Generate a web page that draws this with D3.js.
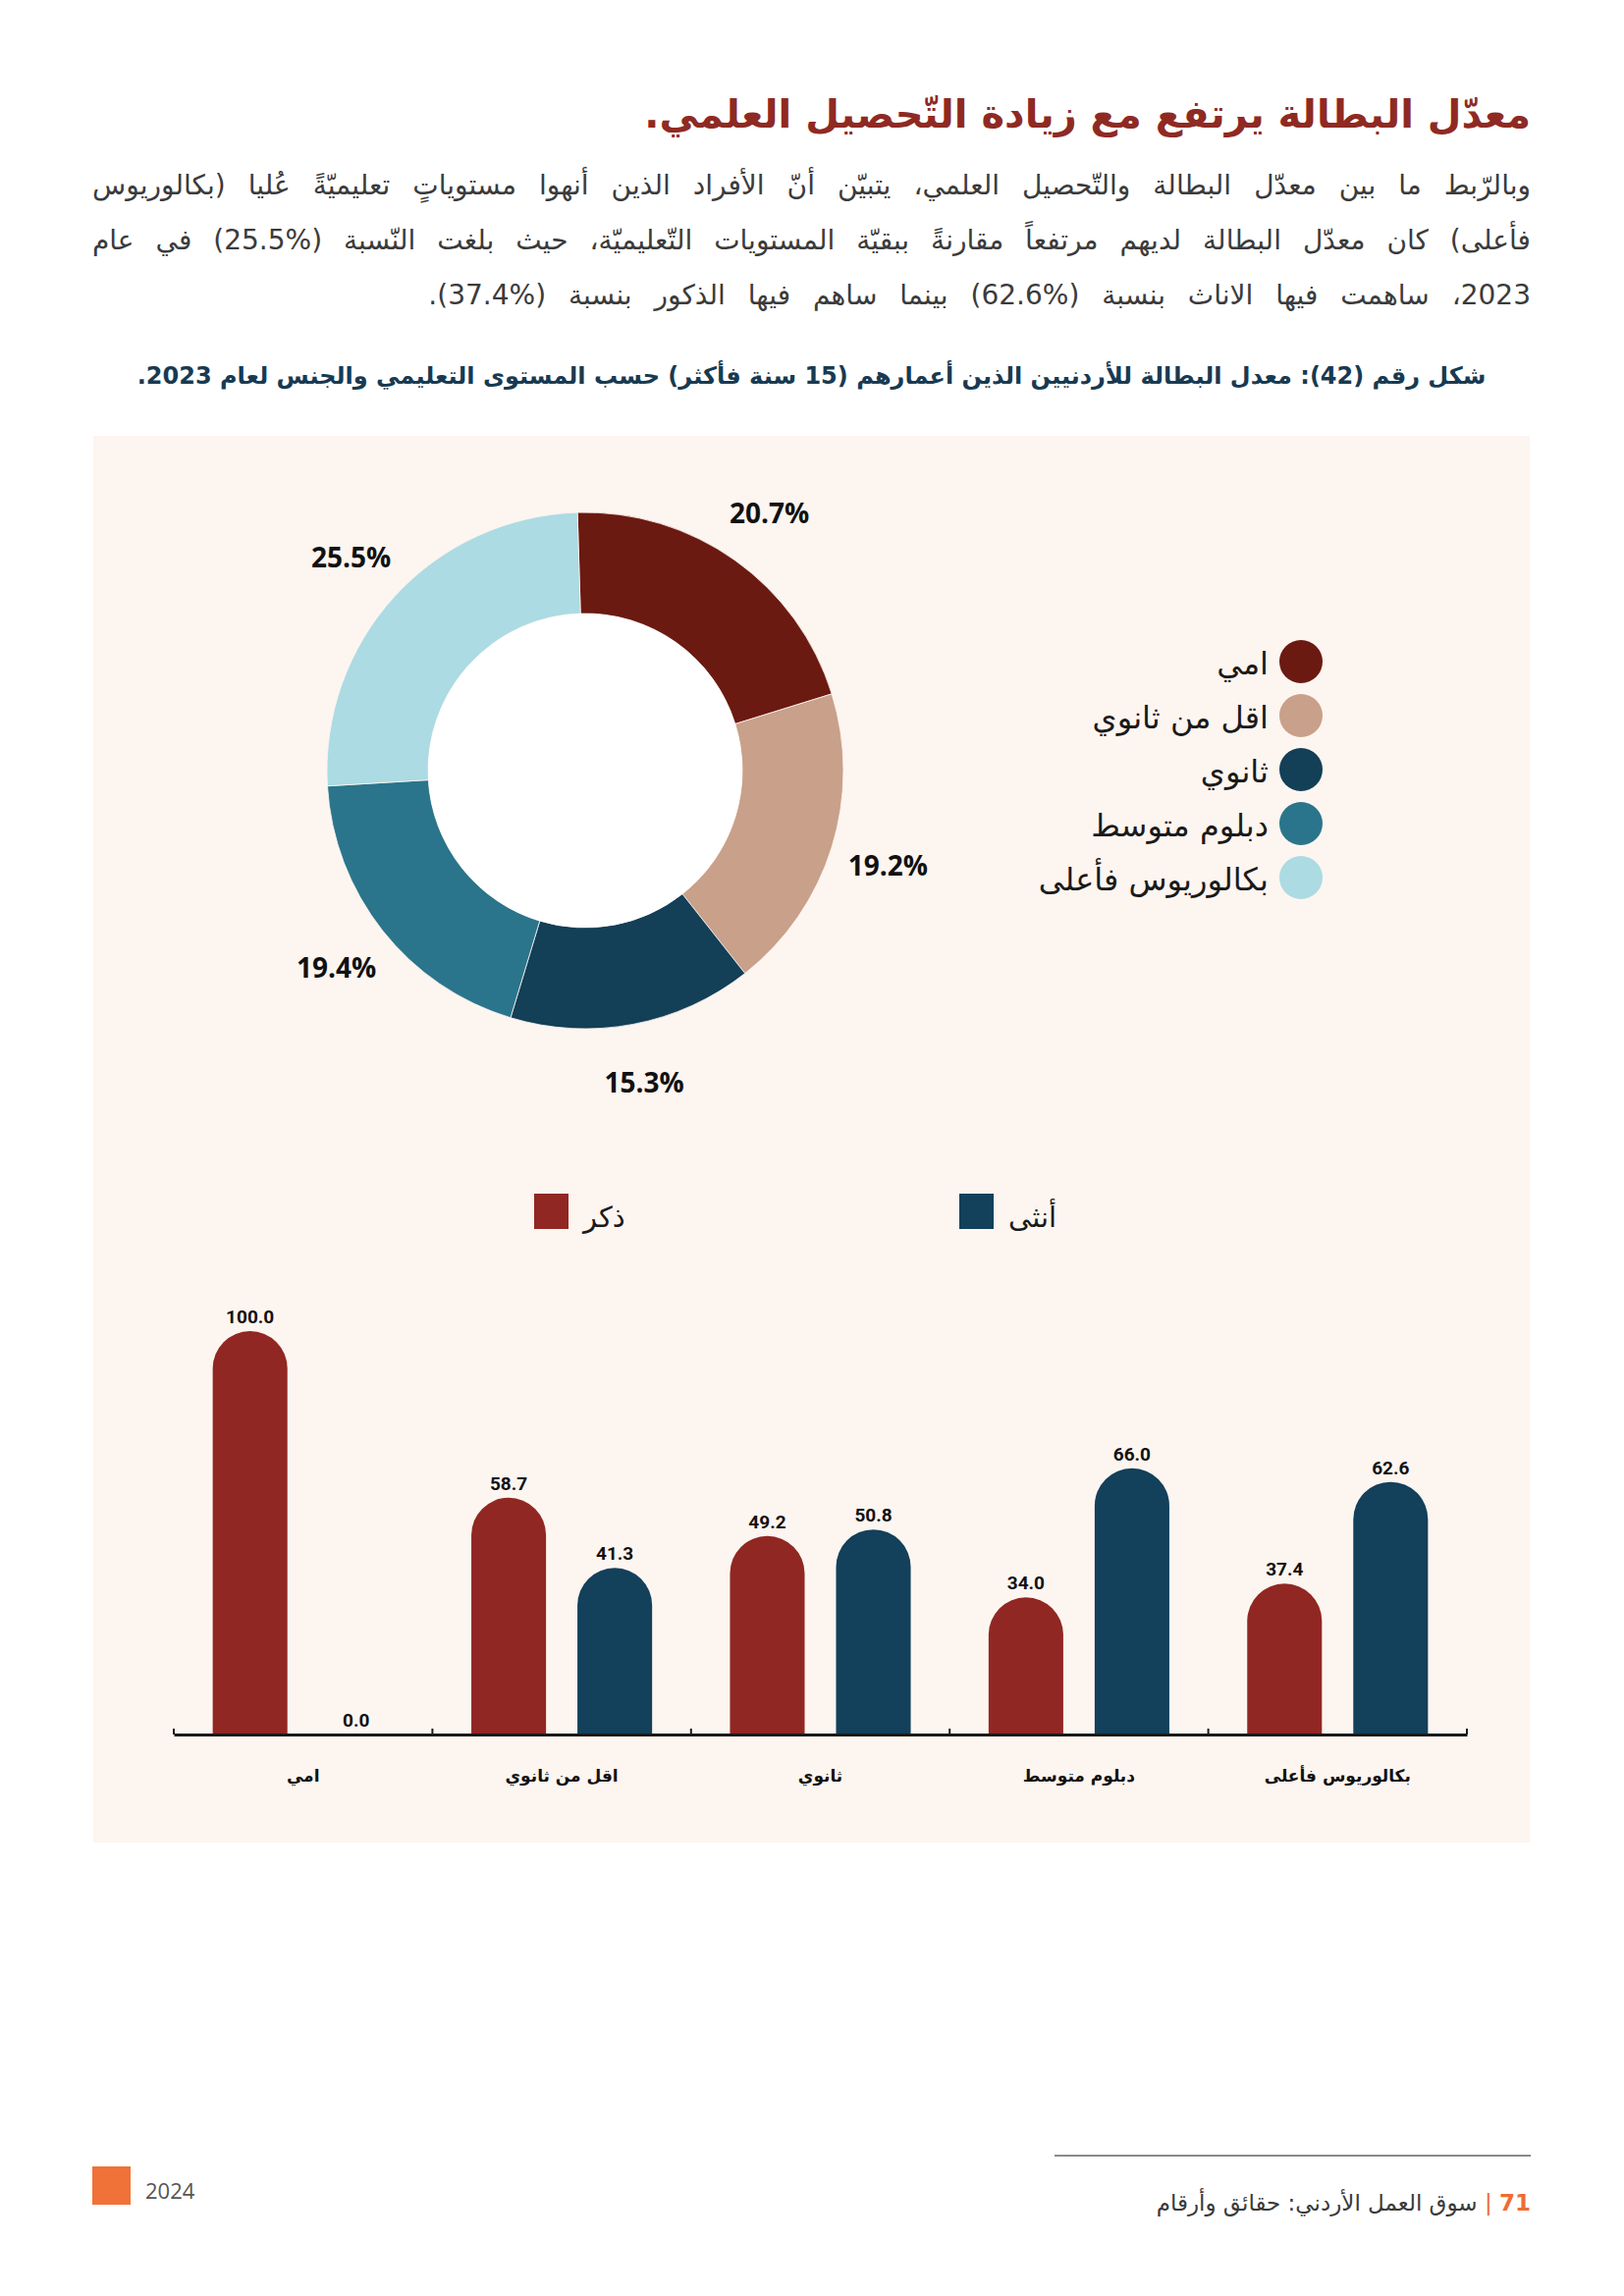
<!DOCTYPE html>
<html lang="ar">
<head>
<meta charset="utf-8">
<script src="https://cdn.jsdelivr.net/npm/d3@7"></script>
<style>
  html, body { margin:0; padding:0; background:#ffffff; }
  body { width:1654px; height:2339px; position:relative; overflow:hidden; font-family:"DejaVu Sans", sans-serif; }
  svg { position:absolute; left:0; top:0; }
  .t { position:absolute; direction:rtl; }
  #title { right:95px; top:86px; font-size:40px; font-weight:bold; color:#8f2a23; white-space:nowrap; line-height:60px; }
  .pl { left:94px; width:1465px; font-size:28px; color:#3b3b3b; line-height:56px; height:56px; }
  .just { text-align:justify; text-align-last:justify; }
  .right { text-align:right; word-spacing:14px; }
  .ltr { direction:ltr; unicode-bidi:isolate; }
  #caption { left:94px; width:1465px; top:363px; text-align:center; font-size:24px; font-weight:bold; color:#183a52; line-height:40px; }
  #foot { right:95px; top:2226px; font-size:23px; color:#3a3a3a; white-space:nowrap; line-height:36px; }
  #foot .n { color:#ef6c33; font-weight:bold; }
  #foot .b { color:#ef6c33; }
  #year { position:absolute; left:148px; top:2216px; font-size:22px; color:#555; line-height:30px; font-family:"Open Sans", sans-serif; }
</style>
</head>
<body>
<svg id="chart" width="1654" height="2339"></svg>
<div class="t" id="title">معدّل البطالة يرتفع مع زيادة التّحصيل العلمي.</div>
<div class="t pl just" style="top:161px">وبالرّبط ما بين معدّل البطالة والتّحصيل العلمي، يتبيّن أنّ الأفراد الذين أنهوا مستوياتٍ تعليميّةً عُليا (بكالوريوس</div>
<div class="t pl just" style="top:217px">فأعلى) كان معدّل البطالة لديهم مرتفعاً مقارنةً ببقيّة المستويات التّعليميّة، حيث بلغت النّسبة (<span class="ltr">25.5%</span>) في عام</div>
<div class="t pl right" style="top:273px">2023، ساهمت فيها الاناث بنسبة (<span class="ltr">62.6%</span>) بينما ساهم فيها الذكور بنسبة (<span class="ltr">37.4%</span>).</div>
<div class="t" id="caption">شكل رقم (42): معدل البطالة للأردنيين الذين أعمارهم (15 سنة فأكثر) حسب المستوى التعليمي والجنس لعام 2023.</div>
<div class="t" id="foot"><span class="n">71</span> <span class="b">|</span> سوق العمل الأردني: حقائق وأرقام</div>
<div id="year">2024</div>
<script>
// ---------- DATA ----------
const pieCategories = ["امي", "اقل من ثانوي", "ثانوي", "دبلوم متوسط", "بكالوريوس فأعلى"];
const pieValues = [20.7, 19.2, 15.3, 19.4, 25.5];
const pieLabelTexts = ["20.7%", "19.2%", "15.3%", "19.4%", "25.5%"];

const barCategories = ["امي", "اقل من ثانوي", "ثانوي", "دبلوم متوسط", "بكالوريوس فأعلى"];
const seriesNames = ["ذكر", "أنثى"];
const maleValues = [100.0, 58.7, 49.2, 34.0, 37.4];
const femaleValues = [0.0, 41.3, 50.8, 66.0, 62.6];

// ---------- STYLE ----------
const pieColors = ["#6b1a12", "#c9a08a", "#133f57", "#2a758c", "#acdbe3"];
const seriesColors = ["#912722", "#13405a"];

const svg = d3.select("#chart");

// panel background
svg.append("rect").attr("x", 95).attr("y", 444).attr("width", 1463).attr("height", 1433).attr("fill", "#fdf5f0");

// ---------- DONUT ----------
const cx = 596, cy = 785, rOut = 263, rIn = 160, rLab = 323;
const a0 = -0.03;
const pie = d3.pie().sort(null).value(d => d).startAngle(a0).endAngle(a0 + 2 * Math.PI);
const arcs = pie(pieValues);
const arc = d3.arc().innerRadius(rIn).outerRadius(rOut);
const labArc = d3.arc().innerRadius(rLab).outerRadius(rLab);
const gPie = svg.append("g").attr("transform", `translate(${cx},${cy})`);
gPie.selectAll("path").data(arcs).join("path")
  .attr("d", arc).attr("fill", (d, i) => pieColors[i])
  .attr("stroke", "#fdf5f0").attr("stroke-width", 0.8);
gPie.append("circle").attr("r", rIn).attr("fill", "#ffffff");
gPie.selectAll("text.pl").data(arcs).join("text").attr("class", "pl")
  .attr("x", d => labArc.centroid(d)[0]).attr("y", d => labArc.centroid(d)[1])
  .attr("text-anchor", "middle").attr("dominant-baseline", "central")
  .attr("font-family", "'Open Sans', sans-serif").attr("font-weight", "bold").attr("font-size", 18)
  .attr("fill", "#111").text((d, i) => pieLabelTexts[i]);

// legend
const legY = d3.scalePoint().domain(pieCategories).range([674, 894]);
const gLeg = svg.append("g");
pieCategories.forEach((c, i) => {
  gLeg.append("circle").attr("cx", 1325).attr("cy", legY(c)).attr("r", 22).attr("fill", pieColors[i]);
  gLeg.append("text").attr("x", 1292).attr("y", legY(c) + 13).attr("text-anchor", "end")
    .attr("font-size", 32).attr("fill", "#1a1a1a").text(c);
});

// ---------- BARS ----------
const baseY = 1767;
const x0 = d3.scaleBand().domain(barCategories).range([177, 1494]).padding(0);
const x1 = d3.scaleBand().domain(seriesNames).range([0, x0.bandwidth()]).paddingInner(0.296).paddingOuter(0.367);
const y = d3.scaleLinear().domain([0, 100]).range([baseY, 1356]);

// bar legend
const legX = d3.scaleOrdinal().domain(seriesNames).range([544, 977]);
seriesNames.forEach((s, i) => {
  svg.append("rect").attr("x", legX(s)).attr("y", 1216).attr("width", 35).attr("height", 36).attr("fill", seriesColors[i]);
  svg.append("text").attr("x", legX(s) + 50).attr("y", 1250).attr("font-size", 29).attr("fill", "#1a1a1a").text(s);
});

function barPath(x, w, v) {
  const top = y(v), h = baseY - top;
  if (h <= 0) return "";
  const r = Math.min(w / 2, h);
  return `M${x},${baseY}V${top + r}A${w / 2},${r} 0 0 1 ${x + w},${top + r}V${baseY}Z`;
}

const rows = barCategories.map((c, i) => ({ cat: c, vals: [maleValues[i], femaleValues[i]] }));
const gBars = svg.append("g");
rows.forEach(row => {
  row.vals.forEach((v, j) => {
    const s = seriesNames[j];
    const bx = x0(row.cat) + x1(s);
    gBars.append("path").attr("d", barPath(bx, x1.bandwidth(), v)).attr("fill", seriesColors[j]);
    gBars.append("text").attr("x", bx + x1.bandwidth() / 2).attr("y", y(v) - 8)
      .attr("text-anchor", "middle").attr("font-family", "Roboto, sans-serif").attr("font-weight", "bold")
      .attr("font-size", 19).attr("fill", "#111").text(d3.format(".1f")(v));
  });
});

// axis
const gAx = svg.append("g").attr("transform", `translate(0,${baseY})`)
  .call(d3.axisBottom(x0).tickSize(0).tickPadding(36));
gAx.select(".domain").attr("stroke", "#1a1a1a").attr("stroke-width", 3);
gAx.selectAll(".tick text").attr("font-family", "'DejaVu Sans', sans-serif").attr("font-weight", "bold")
  .attr("font-size", 17).attr("fill", "#111");
const bounds = barCategories.map(c => x0(c)).concat([x0.range()[1]]);
gAx.selectAll("line.b").data(bounds).join("line").attr("class", "b")
  .attr("x1", d => d).attr("x2", d => d).attr("y1", 0).attr("y2", -6)
  .attr("stroke", "#1a1a1a").attr("stroke-width", 2);

// ---------- FOOTER ----------
svg.append("line").attr("x1", 1074).attr("x2", 1559).attr("y1", 2196).attr("y2", 2196).attr("stroke", "#8a8a8a").attr("stroke-width", 2);
svg.append("rect").attr("x", 94).attr("y", 2207).attr("width", 39).attr("height", 39).attr("fill", "#f07238");
</script>
</body>
</html>
